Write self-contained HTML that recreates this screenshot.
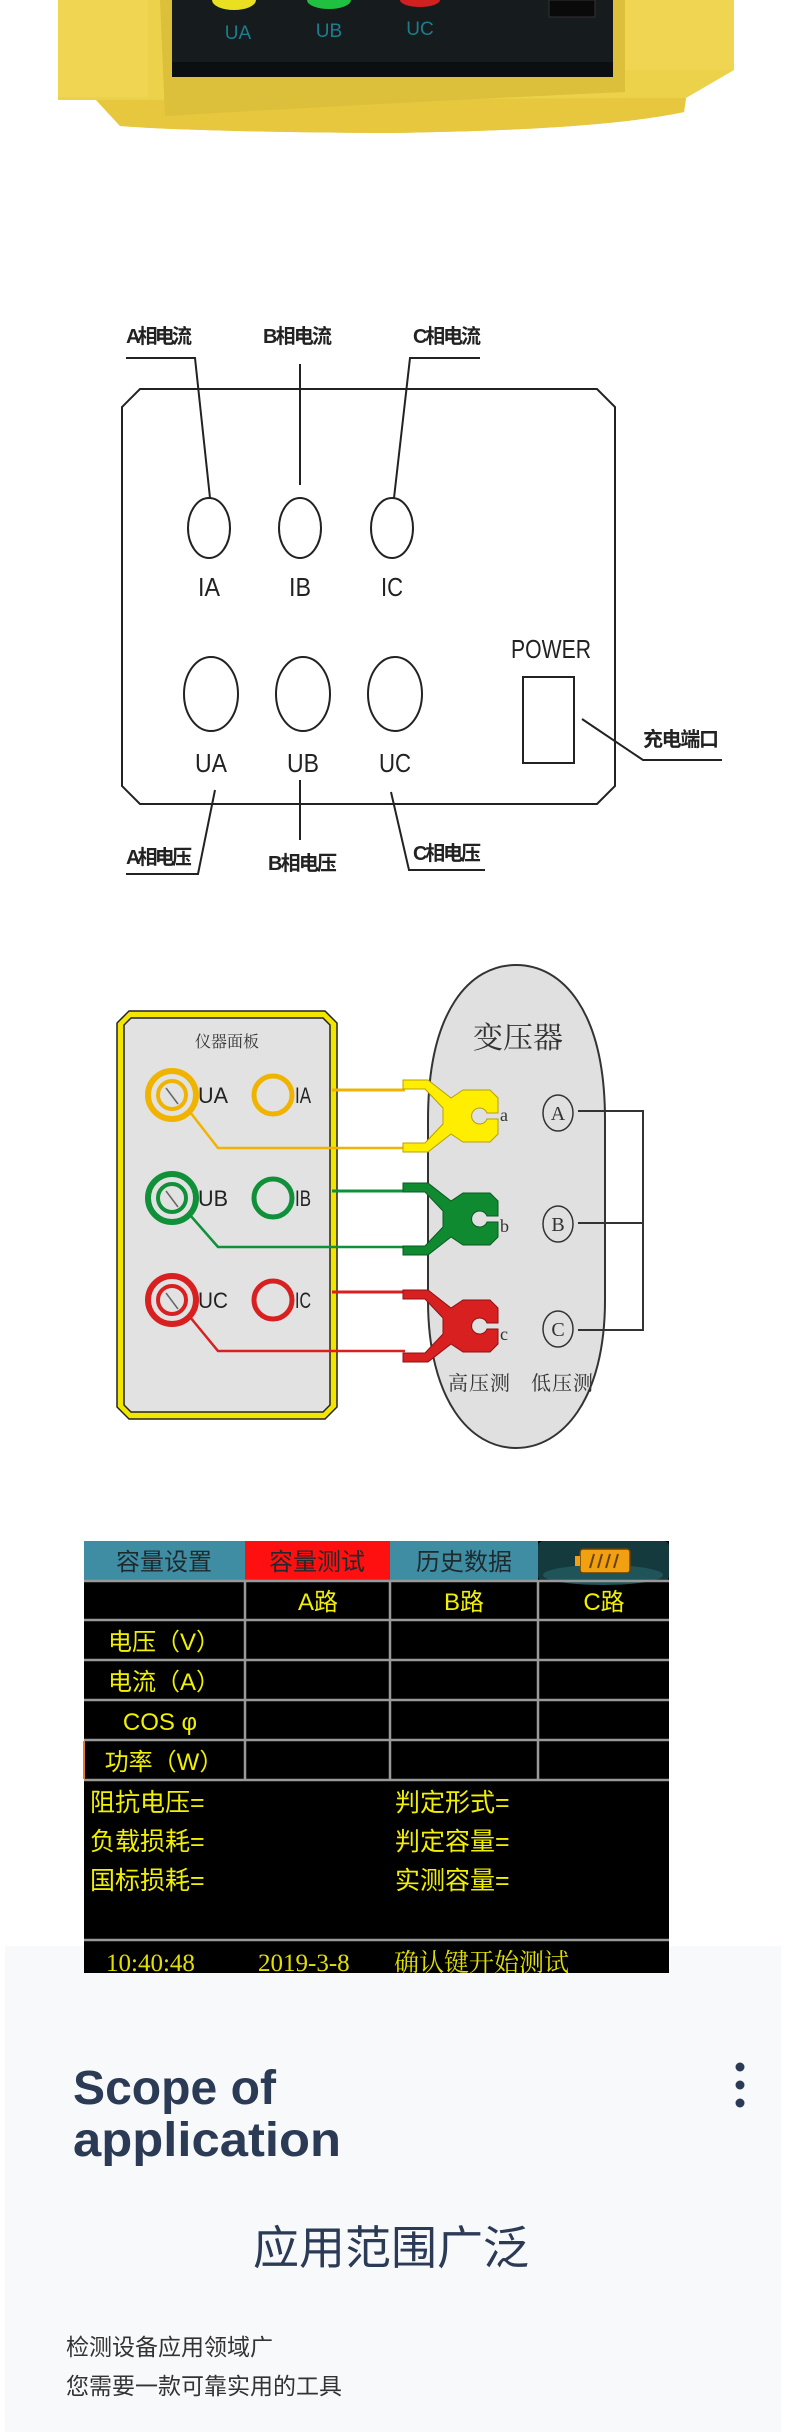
<!DOCTYPE html>
<html><head><meta charset="utf-8"><style>
html,body{margin:0;padding:0;background:#fff;}
svg{display:block;}
.cn{font-family:"Liberation Sans","Noto Sans CJK SC",sans-serif;}
.sf{font-family:"Liberation Serif","Noto Serif CJK SC",serif;}
</style></head><body>
<svg width="790" height="2432" viewBox="0 0 790 2432" xmlns="http://www.w3.org/2000/svg">
<rect width="790" height="2432" fill="#fff"/>
<!-- top device -->
<path d="M58 0 H734 V70 L686 98 L684 112 Q600 130 390 133 Q200 132 120 126 L96 100 H58 Z" fill="#ecd14a"/>
<path d="M96 100 L120 126 Q200 132 390 133 Q600 130 684 112 L686 98 Z" fill="#e6c73e"/>
<rect x="58" y="0" width="90" height="97" fill="#f0d552"/>
<rect x="625" y="0" width="109" height="70" fill="#f0d552"/>
<path d="M160 0 H625 V92 Q400 102 165 116 Z" fill="#dcbf3a"/>
<rect x="172" y="0" width="441" height="77" fill="#161b1e"/>
<rect x="172" y="62" width="441" height="15" fill="#0c0f11"/>
<rect x="549" y="0" width="46" height="17" fill="#0a0a0a" stroke="#333"/>
<ellipse cx="234" cy="0" rx="22" ry="10" fill="#e8e020"/>
<ellipse cx="329" cy="0" rx="22" ry="9" fill="#20c040"/>
<ellipse cx="420" cy="0" rx="20" ry="7" fill="#d02020"/>
<g font-family="Liberation Sans,sans-serif" font-size="19" fill="#1d7d8d" text-anchor="middle">
<text x="238" y="39">UA</text><text x="329" y="37">UB</text><text x="420" y="35">UC</text></g>

<!-- diagram 1 -->
<g fill="none" stroke="#222" stroke-width="2">
<path d="M140 389 H597 L615 407 V786 L597 804 H140 L122 786 V407 Z"/>
<path d="M126 358 H195 L210 498"/>
<path d="M300 364 V485"/>
<path d="M480 358 H410 L394 498"/>
<ellipse cx="209" cy="528" rx="21" ry="30"/>
<ellipse cx="300" cy="528" rx="21" ry="30"/>
<ellipse cx="392" cy="528" rx="21" ry="30"/>
<ellipse cx="211" cy="694" rx="27" ry="37"/>
<ellipse cx="303" cy="694" rx="27" ry="37"/>
<ellipse cx="395" cy="694" rx="27" ry="37"/>
<rect x="523" y="677" width="51" height="86"/>
<path d="M582 719 L643 760 H722"/>
<path d="M215 790 L198 874 H126"/>
<path d="M300 780 V840"/>
<path d="M391 792 L409 870 H485"/>
</g>
<g class="cn" font-size="20" font-weight="bold" fill="#222">
<text x="126" y="343" textLength="66">A相电流</text>
<text x="263" y="343" textLength="69">B相电流</text>
<text x="413" y="343" textLength="68">C相电流</text>
<text x="126" y="864" textLength="66">A相电压</text>
<text x="268" y="870" textLength="69">B相电压</text>
<text x="413" y="860" textLength="68">C相电压</text>
<text x="643" y="746" textLength="76">充电端口</text>
</g>
<g font-family="Liberation Sans,sans-serif" font-size="26" fill="#222" text-anchor="middle">
<text x="209" y="596" textLength="22" lengthAdjust="spacingAndGlyphs">IA</text>
<text x="300" y="596" textLength="22" lengthAdjust="spacingAndGlyphs">IB</text>
<text x="392" y="596" textLength="22" lengthAdjust="spacingAndGlyphs">IC</text>
<text x="211" y="772" textLength="32" lengthAdjust="spacingAndGlyphs">UA</text>
<text x="303" y="772" textLength="32" lengthAdjust="spacingAndGlyphs">UB</text>
<text x="395" y="772" textLength="32" lengthAdjust="spacingAndGlyphs">UC</text>
<text x="551" y="658" textLength="80" lengthAdjust="spacingAndGlyphs">POWER</text>
</g>

<!-- diagram 2 -->
<path d="M428 1120 C428 1010 470 965 516 965 C562 965 605 1010 605 1120 V1300 C605 1400 562 1448 516 1448 C470 1448 428 1400 428 1300 Z" fill="#e0e0e0" stroke="#333" stroke-width="2"/>
<path d="M129 1011 H325 L337 1023 V1407 L325 1419 H129 L117 1407 V1023 Z" fill="#f2e600" stroke="#222" stroke-width="1.5"/>
<path d="M131 1018 H323 L330 1025 V1405 L323 1412 H131 L124 1405 V1025 Z" fill="#e2e2e2" stroke="#222" stroke-width="1.5"/>
<text x="227" y="1047" class="sf" font-size="16" fill="#333" text-anchor="middle">仪器面板</text>
<text x="518" y="1048" class="sf" font-size="30" fill="#333" text-anchor="middle">变压器</text>
<g fill="none" stroke-width="4">
<circle cx="172" cy="1095" r="24" stroke="#f0b400" stroke-width="6"/>
<circle cx="172" cy="1095" r="14" stroke="#f0b400"/>
<circle cx="273" cy="1095" r="19" stroke="#f0b400" stroke-width="5"/>
<path d="M332 1090 H405" stroke="#f0b400" stroke-width="3"/>
<path d="M190 1112 L218 1148 H405" stroke="#f0b400" stroke-width="2.5"/>
<circle cx="172" cy="1198" r="24" stroke="#109038" stroke-width="6"/>
<circle cx="172" cy="1198" r="14" stroke="#109038"/>
<circle cx="273" cy="1198" r="19" stroke="#109038" stroke-width="5"/>
<path d="M332 1191 H405" stroke="#109038" stroke-width="3"/>
<path d="M190 1215 L218 1247 H405" stroke="#109038" stroke-width="2.5"/>
<circle cx="172" cy="1300" r="24" stroke="#d82020" stroke-width="6"/>
<circle cx="172" cy="1300" r="14" stroke="#d82020"/>
<circle cx="273" cy="1300" r="19" stroke="#d82020" stroke-width="5"/>
<path d="M332 1292 H405" stroke="#d82020" stroke-width="3"/>
<path d="M190 1317 L218 1351 H405" stroke="#d82020" stroke-width="2.5"/>
<path d="M166 1088 L178 1104 M166 1191 L178 1207 M166 1293 L178 1309" stroke="#666" stroke-width="1.5"/>
</g>
<g font-family="Liberation Sans,sans-serif" font-size="22" fill="#222">
<text x="198" y="1103" textLength="30" lengthAdjust="spacingAndGlyphs">UA</text>
<text x="295" y="1103" textLength="16" lengthAdjust="spacingAndGlyphs">IA</text>
<text x="198" y="1206" textLength="30" lengthAdjust="spacingAndGlyphs">UB</text>
<text x="295" y="1206" textLength="16" lengthAdjust="spacingAndGlyphs">IB</text>
<text x="198" y="1308" textLength="30" lengthAdjust="spacingAndGlyphs">UC</text>
<text x="295" y="1308" textLength="16" lengthAdjust="spacingAndGlyphs">IC</text>
</g>
<defs>
<path id="clamp" d="M0 -36 H25 L48 -18 L60 -26 H87 L95 -18 V-3 H84 A8 8 0 1 0 84 3 H95 V18 L87 26 H60 L48 18 L25 36 H0 V27 H22 L40 8 V-8 L22 -27 H0 Z"/>
</defs>
<use href="#clamp" transform="translate(403 1116)" fill="#ffee00" stroke="#b8a000" stroke-width="1"/>
<use href="#clamp" transform="translate(403 1219)" fill="#108a30" stroke="#0a5a20" stroke-width="1"/>
<use href="#clamp" transform="translate(403 1326)" fill="#d82020" stroke="#901010" stroke-width="1"/>
<g class="sf" font-size="18" fill="#333">
<text x="500" y="1121">a</text><text x="500" y="1232">b</text><text x="500" y="1340">c</text>
</g>
<g fill="none" stroke="#333" stroke-width="1.5">
<ellipse cx="558" cy="1113" rx="15" ry="18"/>
<ellipse cx="558" cy="1224" rx="15" ry="18"/>
<ellipse cx="558" cy="1329" rx="15" ry="18"/>
<path d="M578 1111 H643 V1330 H578 M578 1223 H643" stroke-width="2"/>
</g>
<g class="sf" font-size="20" fill="#333" text-anchor="middle">
<text x="558" y="1120">A</text><text x="558" y="1231">B</text><text x="558" y="1336">C</text>
</g>
<g class="sf" font-size="20" fill="#333">
<text x="448" y="1390" textLength="62">高压测</text>
<text x="531" y="1390" textLength="62">低压测</text>
</g>

<!-- card background -->
<rect x="5" y="1946" width="776" height="486" fill="#f8f9fb"/>

<!-- table -->
<rect x="84" y="1541" width="585" height="432" fill="#000"/>
<rect x="84" y="1541" width="161" height="40" fill="#3f8da3"/>
<rect x="245" y="1541" width="145" height="40" fill="#ff1010"/>
<rect x="390" y="1541" width="148" height="40" fill="#3f8da3"/>
<rect x="538" y="1541" width="131" height="40" rx="5" fill="#143a3e"/>
<ellipse cx="603" cy="1575" rx="60" ry="10" fill="#1f5558"/>
<rect x="580" y="1549" width="50" height="24" rx="3" fill="#f0a010" stroke="#6a4000" stroke-width="1.5"/>
<rect x="575" y="1556" width="5" height="10" fill="#f0a010"/>
<path d="M590 1568 l4 -14 M598 1568 l4 -14 M606 1568 l4 -14 M614 1568 l4 -14" stroke="#6a4000" stroke-width="2"/>
<g stroke="#999" stroke-width="2.5">
<path d="M84 1581 H669 M84 1620 H669 M84 1660 H669 M84 1700 H669 M84 1740 H669 M84 1780 H669 M84 1940 H669"/>
<path d="M245 1581 V1780 M390 1581 V1780 M538 1581 V1780"/>
</g>
<path d="M84 1741 V1779" stroke="#e08020" stroke-width="2"/>
<g class="cn" font-size="24" fill="#1e2a2e" text-anchor="middle">
<text x="164" y="1570">容量设置</text><text x="317" y="1570">容量测试</text><text x="464" y="1570">历史数据</text>
</g>
<g class="cn" font-size="24" fill="#f0f000" text-anchor="middle">
<text x="318" y="1610">A路</text><text x="464" y="1610">B路</text><text x="604" y="1610">C路</text>
<text x="164" y="1650">电压（V）</text><text x="164" y="1690">电流（A）</text>
<text x="160" y="1730">COS φ</text><text x="164" y="1770">功率（W）</text>
</g>
<g class="cn" font-size="25" fill="#f0f000">
<text x="90" y="1811">阻抗电压=</text><text x="90" y="1850">负载损耗=</text><text x="90" y="1889">国标损耗=</text>
<text x="395" y="1811">判定形式=</text><text x="395" y="1850">判定容量=</text><text x="395" y="1889">实测容量=</text>
</g>
<g class="sf" font-size="25" fill="#e0e000">
<text x="106" y="1971">10:40:48</text><text x="258" y="1971">2019-3-8</text><text x="394" y="1971">确认键开始测试</text>
</g>

<!-- scope section -->
<g font-family="Liberation Sans,sans-serif" font-weight="bold" font-size="48" fill="#2b3a55">
<text x="73" y="2104" textLength="203" lengthAdjust="spacingAndGlyphs">Scope of</text>
<text x="73" y="2156" textLength="268" lengthAdjust="spacingAndGlyphs">application</text>
</g>
<circle cx="740" cy="2067" r="4.5" fill="#2b3a55"/>
<circle cx="740" cy="2085" r="4.5" fill="#2b3a55"/>
<circle cx="740" cy="2103" r="4.5" fill="#2b3a55"/>
<text x="391" y="2264" class="cn" font-size="46" fill="#2b3a55" text-anchor="middle">应用范围广泛</text>
<g class="cn" font-size="23" fill="#333">
<text x="66" y="2355">检测设备应用领域广</text>
<text x="66" y="2394">您需要一款可靠实用的工具</text>
</g>
</svg>
</body></html>
